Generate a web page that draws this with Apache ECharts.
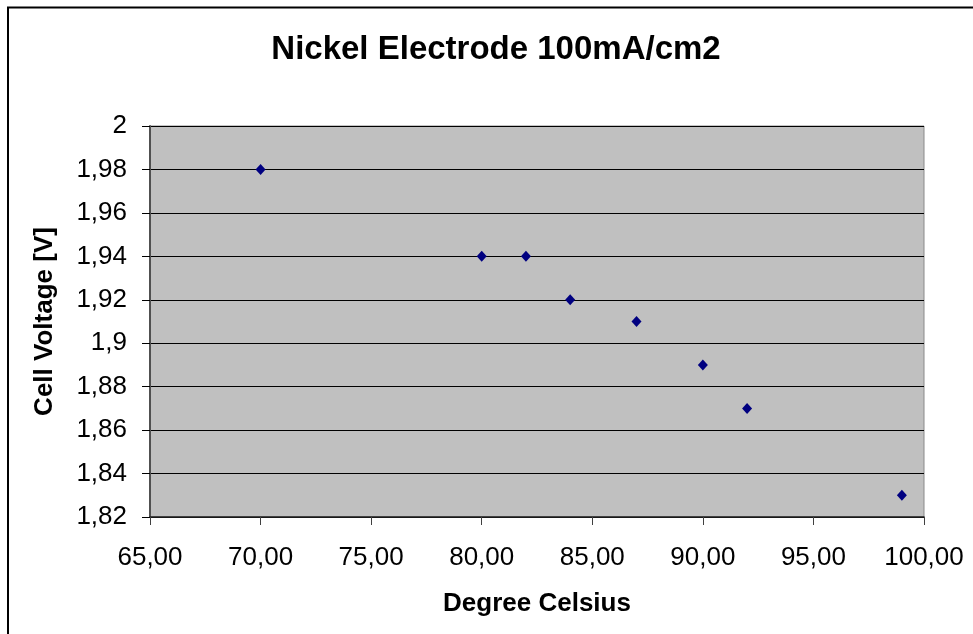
<!DOCTYPE html>
<html>
<head>
<meta charset="utf-8">
<script src="https://cdn.jsdelivr.net/npm/echarts@6/dist/echarts.min.js"></script>
<style>
  html, body { margin: 0; padding: 0; background: #fff; }
  #chart { width: 973px; height: 634px; }
</style>
</head>
<body>
<div id="chart"></div>
<script>
// Cell voltage measured at 100 mA/cm2 against electrolyte temperature
const temperatures = [70, 80, 82, 84, 87, 90, 92, 99];
const voltages = [1.98, 1.94, 1.94, 1.92, 1.91, 1.89, 1.87, 1.83];

const titleText = 'Nickel Electrode 100mA/cm2';
const xAxisTitle = 'Degree Celsius';
const yAxisTitle = 'Cell Voltage [V]';

const FONT = '"Liberation Sans", Arial, sans-serif';

const points = temperatures.map((t, i) => [t, voltages[i]]);

const chart = echarts.init(document.getElementById('chart'), null, { renderer: 'canvas' });

chart.setOption({
  backgroundColor: '#ffffff',
  animation: false,
  title: {
    text: titleText,
    left: 496,
    top: 33,
    textAlign: 'center',
    padding: 0,
    textStyle: { fontFamily: FONT, fontSize: 33, fontWeight: 'bold', color: '#000' }
  },
  graphic: [{
    type: 'rect',
    silent: true,
    shape: { x: 8, y: 7.5, width: 1100, height: 800 },
    style: { fill: 'none', stroke: '#000', lineWidth: 2 }
  }],
  grid: {
    left: 150, top: 126, right: 49, bottom: 117,
    show: true,
    backgroundColor: '#c0c0c0',
    borderColor: '#8a8a8a',
    borderWidth: 1
  },
  xAxis: {
    type: 'value',
    min: 65, max: 100, interval: 5,
    name: xAxisTitle,
    nameLocation: 'middle',
    nameGap: 74,
    nameTextStyle: { fontFamily: FONT, fontSize: 26, fontWeight: 'bold', color: '#000' },
    axisLine: { show: true, onZero: false, lineStyle: { color: '#202020', width: 1.5 } },
    axisTick: { show: true, inside: false, length: 8, lineStyle: { color: '#404040', width: 1 } },
    axisLabel: {
      margin: 28,
      fontFamily: FONT, fontSize: 26, color: '#000',
      formatter: v => v.toFixed(2).replace('.', ',')
    },
    splitLine: { show: false }
  },
  yAxis: {
    type: 'value',
    min: 1.82, max: 2, interval: 0.02,
    name: yAxisTitle,
    nameLocation: 'middle',
    nameGap: 92,
    nameTextStyle: { fontFamily: FONT, fontSize: 26, fontWeight: 'bold', color: '#000' },
    axisLine: { show: true, onZero: false, lineStyle: { color: '#505050', width: 2 } },
    axisTick: { show: true, inside: false, length: 8, lineStyle: { color: '#000', width: 1 } },
    axisLabel: {
      margin: 23,
      fontFamily: FONT, fontSize: 26, color: '#000',
      formatter: v => String(parseFloat(v.toFixed(2))).replace('.', ',')
    },
    splitLine: { show: true, lineStyle: { color: '#000', width: 1 } }
  },
  series: [{
    type: 'scatter',
    data: points,
    symbol: 'diamond',
    symbolSize: [10, 11],
    itemStyle: { color: '#000080', opacity: 1 }
  }]
});
</script>
</body>
</html>
